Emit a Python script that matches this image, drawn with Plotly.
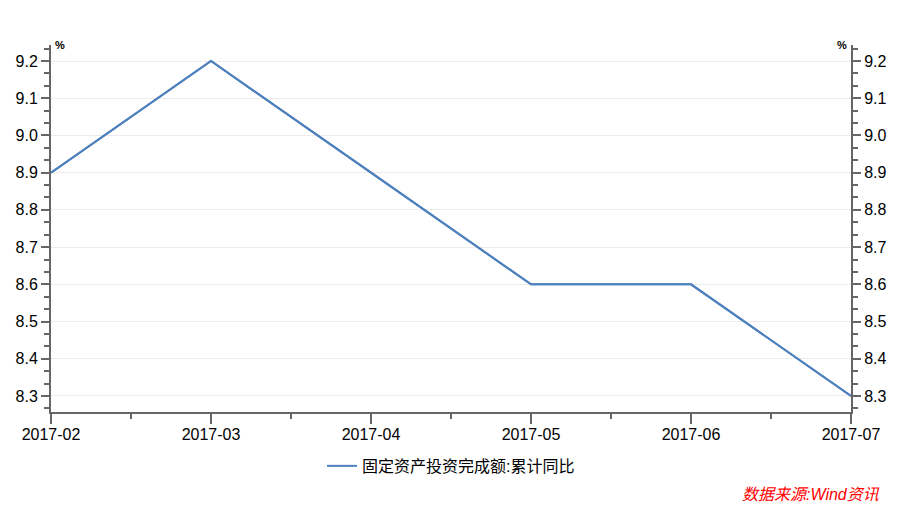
import plotly.graph_objects as go

dates = ["2017-02", "2017-03", "2017-04", "2017-05", "2017-06", "2017-07"]
values = [8.9, 9.2, 8.9, 8.6, 8.6, 8.3]
series_name = "固定资产投资完成额:累计同比"
source_text = "数据来源:Wind资讯"
y_ticks = [8.3, 8.4, 8.5, 8.6, 8.7, 8.8, 8.9, 9.0, 9.1, 9.2]

idx = list(range(len(dates)))

FONT = "Liberation Sans, Noto Sans CJK SC, sans-serif"
AX = "#666666"
LINE = "#4f81bd"

fig = go.Figure()
fig.add_trace(go.Scatter(x=idx, y=values, mode="lines", name=series_name,
                         line=dict(color=LINE, width=2)))
fig.add_trace(go.Scatter(x=idx, y=values, mode="lines", yaxis="y2", showlegend=False,
                         hoverinfo="skip", line=dict(color=LINE, width=2)))

yr = [8.257, 9.243]
common_y = dict(range=yr, tickvals=y_ticks, ticktext=[f"{v:.1f}" for v in y_ticks],
                showline=True, linecolor=AX, linewidth=2, ticks="outside", ticklen=8,
                tickwidth=2, tickcolor=AX, tickfont=dict(family=FONT, size=16, color="black"),
                minor=dict(dtick=0.1 / 3, tick0=8.3, ticks="outside", ticklen=5, tickwidth=2,
                           tickcolor=AX, showgrid=False),
                zeroline=False, automargin=False)

fig.update_layout(
    width=904, height=508, paper_bgcolor="white", plot_bgcolor="white",
    margin=dict(l=51, r=53, t=45, b=96),
    font=dict(family=FONT, size=16, color="black"),
    xaxis=dict(type="linear", range=[idx[0], idx[-1]], tickvals=idx, ticktext=dates,
               showline=True, linecolor=AX, linewidth=2, ticks="outside", ticklen=10,
               tickwidth=2, tickcolor=AX, showgrid=False, zeroline=False, automargin=False,
               ticklabelstandoff=-3,
               tickfont=dict(family=FONT, size=16, color="black"),
               minor=dict(dtick=0.5, tick0=0, ticks="outside", ticklen=5, tickwidth=2,
                          tickcolor=AX, showgrid=False)),
    yaxis=dict(**common_y, showgrid=True, gridcolor="#ececec", gridwidth=1, side="left"),
    yaxis2=dict(**common_y, showgrid=False, overlaying="y", side="right"),
    legend=dict(orientation="h", x=0.5, xanchor="center", y=-0.147, yanchor="middle",
                font=dict(family=FONT, size=16, color="black")),
    showlegend=True,
    annotations=[
        dict(text="<b>%</b>", xref="paper", yref="paper", x=0.002, y=1.0, xanchor="left",
             yanchor="middle", showarrow=False, font=dict(family=FONT, size=11, color="black")),
        dict(text="<b>%</b>", xref="paper", yref="paper", x=0.998, y=1.0, xanchor="right",
             yanchor="middle", showarrow=False, font=dict(family=FONT, size=11, color="black")),
        dict(text=source_text, xref="paper", yref="paper", x=1.039, y=-0.226, xanchor="right",
             yanchor="middle", showarrow=False,
             font=dict(family=FONT, size=16, color="red", style="italic")),
    ],
)

fig.write_html("out.html", config={"displayModeBar": False},
               post_script="document.body.style.margin='0';")
